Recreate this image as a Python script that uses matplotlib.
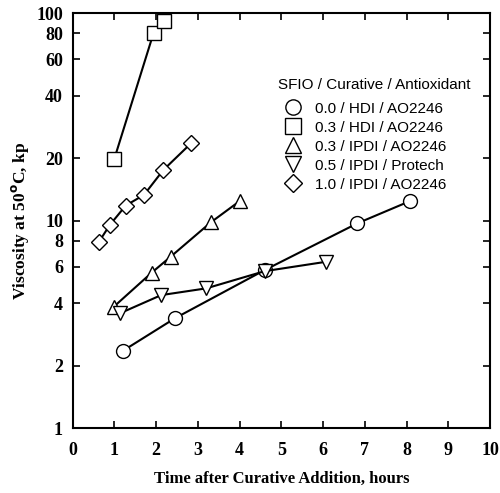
import matplotlib.pyplot as plt
from matplotlib.lines import Line2D
from matplotlib.ticker import FixedLocator, NullLocator

# series: SFIO / Curative / Antioxidant
hdi00_x = [1.21, 2.45, 4.60, 6.82, 8.08]
hdi00_y = [2.36, 3.38, 5.77, 9.69, 12.4]

hdi03_x = [1.0, 1.94, 2.19]
hdi03_y = [19.9, 80.4, 91.5]

ipdi03_x = [0.99, 1.89, 2.35, 3.31, 4.0]
ipdi03_y = [3.85, 5.6, 6.7, 9.8, 12.4]

ipdi05_x = [1.13, 2.12, 3.2, 4.6, 6.08]
ipdi05_y = [3.57, 4.37, 4.71, 5.7, 6.33]

ipdi10_x = [0.63, 0.89, 1.27, 1.71, 2.17, 2.84]
ipdi10_y = [7.9, 9.52, 11.8, 13.3, 17.5, 23.6]

labels = ['0.0 / HDI / AO2246', '0.3 / HDI / AO2246', '0.3 / IPDI / AO2246',
          '0.5 / IPDI / Protech', '1.0 / IPDI / AO2246']
markers = ['o', 's', '^', 'v', 'D']

yticks = [1, 2, 4, 6, 8, 10, 20, 40, 60, 80, 100]
xticks = list(range(11))

fig = plt.figure(figsize=(5, 4.93), dpi=100)
ax = fig.add_axes([0.1454, 0.1318, 0.8346, 0.8418])

series = [(hdi00_x, hdi00_y), (hdi03_x, hdi03_y), (ipdi03_x, ipdi03_y),
          (ipdi05_x, ipdi05_y), (ipdi10_x, ipdi10_y)]
for (xs, ys), m in zip(series, markers):
    ms = 8 if m == 'D' else 10
    ax.plot(xs, ys, color='black', lw=1.5, marker=m, ms=ms,
            markerfacecolor='white', markeredgecolor='black', markeredgewidth=1.0)

ax.set_yscale('log')
ax.set_xlim(0, 10)
ax.set_ylim(1, 100)
ax.yaxis.set_major_locator(FixedLocator(yticks))
ax.yaxis.set_minor_locator(NullLocator())
ax.set_yticklabels([str(t) for t in yticks])
ax.set_xticks(xticks)
ax.tick_params(direction='in', top=True, right=True, length=5, width=1.2)
ax.tick_params(axis='x', pad=10)
ax.tick_params(axis='y', pad=7)
for s in ax.spines.values():
    s.set_linewidth(1.5)

for lab in ax.get_xticklabels() + ax.get_yticklabels():
    lab.set_fontfamily('Liberation Serif')
    lab.set_fontweight('bold')
    lab.set_fontsize(13)

ax.set_xlabel('Time after Curative Addition, hours', fontfamily='Liberation Serif',
              fontweight='bold', fontsize=12, labelpad=8.5)
ax.set_ylabel('Viscosity at 50$^{\\mathbf{o}}$C, kp', fontfamily='Liberation Serif',
              fontweight='bold', fontsize=12.5, labelpad=4)

handles = [Line2D([], [], linestyle='none', marker=m, ms=(9 if m == 'D' else 11),
                  markerfacecolor='white', markeredgecolor='black')
           for m in markers]
leg = ax.legend(handles, labels, title='SFIO / Curative / Antioxidant',
                loc='upper left', bbox_to_anchor=(0.458, 0.877), frameon=False,
                prop={'family': 'Liberation Sans', 'size': 11},
                title_fontproperties={'family': 'Liberation Sans', 'size': 11},
                alignment='left', handletextpad=0.45, labelspacing=0.33,
                handlelength=2.0)
# a little more room between the title and the first entry
leg._legend_box.sep = 7.0

fig.savefig('out.png', dpi=100)
